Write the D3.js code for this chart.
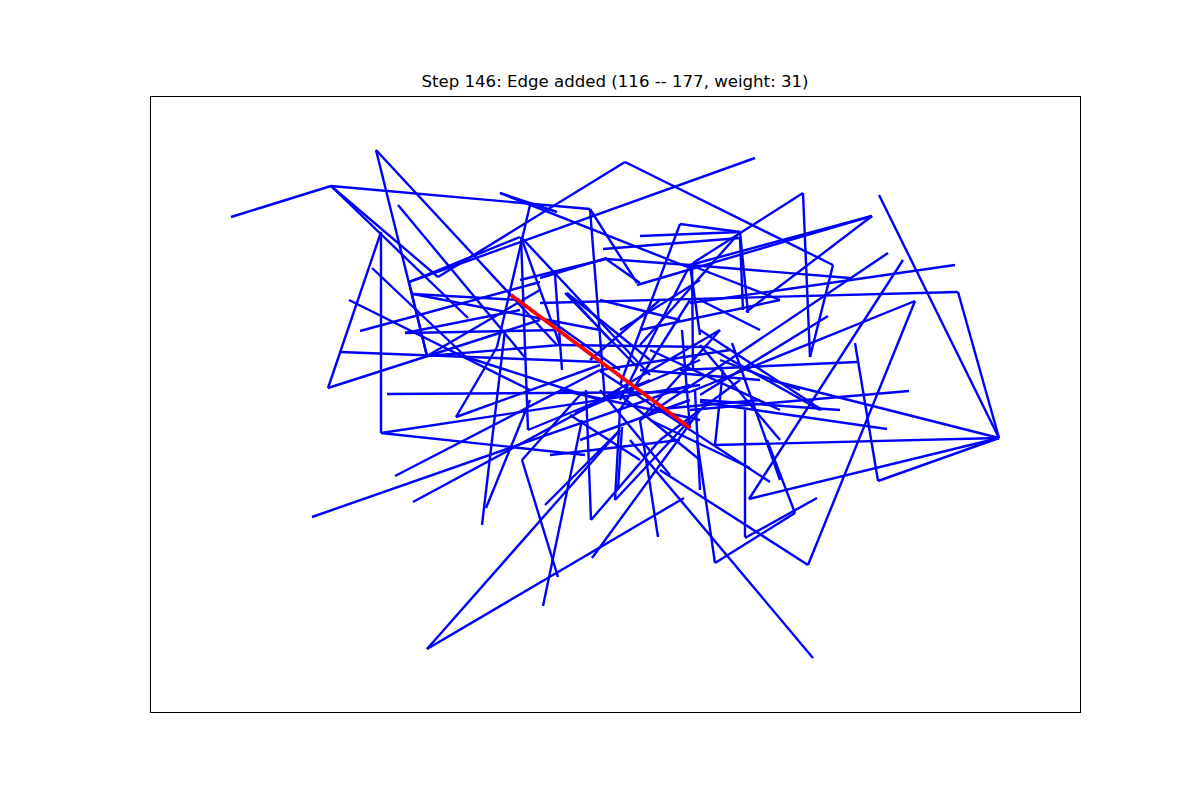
<!DOCTYPE html>
<meta charset="utf-8">
<script src="https://cdnjs.cloudflare.com/ajax/libs/d3/7.8.5/d3.min.js"></script>
<style>
body { margin: 0; background: #fff; }
text { font-family: "DejaVu Sans", sans-serif; }
line { stroke-linecap: butt; }
</style>
<body>
<script>

// Title of this step.
var title = "Step 146: Edge added (116 -- 177, weight: 31)";

// Layout coordinates of the edges drawn so far [x1, y1, x2, y2].
var edges = [
  [231,217,331,186], [331,186,590,209], [331,186,438,277], [331,186,468,318],
  [438,277,625,162], [625,162,833,265], [755,158,409,282], [376,150,427,356],
  [376,150,557,345], [398,205,527,360], [381,232,328,388], [381,232,381,433],
  [372,268,466,357], [328,388,540,320], [340,352,600,362], [360,331,540,282],
  [349,300,530,390], [387,394,690,392], [456,417,497,347], [456,417,600,365],
  [381,433,700,385], [381,433,585,455], [395,476,600,370], [413,502,620,390],
  [312,517,690,385], [486,508,530,400], [482,525,505,330], [522,460,558,577],
  [522,460,580,395], [521,237,528,430], [528,430,650,380], [545,505,620,430],
  [543,606,582,420], [427,649,684,498], [427,649,620,430], [591,520,586,390],
  [591,520,660,440], [615,500,620,410], [615,500,690,420], [592,558,700,410],
  [670,475,600,390], [658,537,640,420], [813,658,630,440], [715,563,697,440],
  [715,563,795,513], [795,513,767,440], [808,565,915,301], [808,565,660,470],
  [817,498,745,538], [745,410,745,537], [749,499,999,438], [749,499,903,260],
  [770,482,600,371], [750,468,650,420], [715,445,999,438], [999,438,770,380],
  [999,438,878,481], [999,438,879,195], [999,438,958,292], [855,343,878,481],
  [909,391,690,410], [887,429,700,402], [857,362,680,370], [822,410,700,330],
  [803,193,810,357], [803,193,693,263], [872,216,690,265], [872,216,637,285],
  [872,216,746,312], [888,253,640,420], [915,301,690,392], [955,265,690,303],
  [958,292,540,303], [833,265,810,357], [828,316,700,395], [850,278,690,265],
  [500,193,690,268], [590,209,605,400], [590,209,637,283], [530,205,497,347],
  [521,237,650,375], [521,237,560,345], [680,224,740,232], [680,224,620,385],
  [640,236,740,232], [603,249,740,238], [606,259,690,265], [740,232,748,313],
  [740,232,640,345], [690,265,780,300], [690,265,620,400], [567,293,650,360],
  [567,293,610,340], [520,280,606,259], [409,282,520,237], [409,282,427,356],
  [413,294,520,300], [413,294,600,330], [405,333,560,330], [427,356,560,345],
  [427,356,540,290], [405,333,520,310], [466,357,600,400], [560,345,708,347],
  [575,413,700,360], [600,400,720,330], [620,410,690,300], [600,370,730,350],
  [650,350,780,410], [700,345,780,440], [708,347,820,410], [620,395,700,460],
  [560,390,700,420], [640,330,780,300], [682,330,690,428], [732,343,780,480],
  [640,420,720,330], [660,440,740,380], [570,415,640,460], [550,455,680,440],
  [590,360,660,300], [550,320,620,370], [600,300,680,320], [620,330,700,280],
  [700,300,760,330], [720,360,800,390], [650,410,760,400], [580,440,690,400],
  [700,400,840,410], [640,370,760,380], [690,265,700,335], [606,259,640,283],
  [500,193,557,212], [607,258,540,278], [692,263,693,370], [555,275,562,370],
  [565,293,637,367], [723,370,715,445], [695,390,700,490], [622,427,618,490],
  [740,238,743,310]
];

// The edge added at this step.
var added = [511,295,690,428];

var width = 1200,
    height = 800;

// Axes frame in page pixels.
var frame = { left: 150, top: 96, right: 1080, bottom: 712 };

var x = d3.scaleLinear().domain([150, 1080]).range([frame.left, frame.right]),
    y = d3.scaleLinear().domain([96, 712]).range([frame.top, frame.bottom]);

var svg = d3.select("body").append("svg")
    .attr("width", width)
    .attr("height", height);

svg.append("rect")
    .attr("width", width)
    .attr("height", height)
    .attr("fill", "#fff");

svg.append("g").selectAll("line")
    .data(edges)
  .enter().append("line")
    .attr("x1", function(d) { return x(d[0]); })
    .attr("y1", function(d) { return y(d[1]); })
    .attr("x2", function(d) { return x(d[2]); })
    .attr("y2", function(d) { return y(d[3]); })
    .attr("stroke", "#0000ff")
    .attr("stroke-width", 2.4);

svg.append("line")
    .datum(added)
    .attr("x1", function(d) { return x(d[0]); })
    .attr("y1", function(d) { return y(d[1]); })
    .attr("x2", function(d) { return x(d[2]); })
    .attr("y2", function(d) { return y(d[3]); })
    .attr("stroke", "#ff0000")
    .attr("stroke-width", 4);

svg.append("rect")
    .attr("x", frame.left + 0.5)
    .attr("y", frame.top + 0.5)
    .attr("width", frame.right - frame.left)
    .attr("height", frame.bottom - frame.top)
    .attr("fill", "none")
    .attr("stroke", "#000")
    .attr("stroke-width", 1);

svg.append("text")
    .attr("x", (frame.left + frame.right) / 2)
    .attr("y", frame.top - 9)
    .attr("text-anchor", "middle")
    .attr("font-size", "16.6px")
    .attr("fill", "#000")
    .text(title);

</script>
